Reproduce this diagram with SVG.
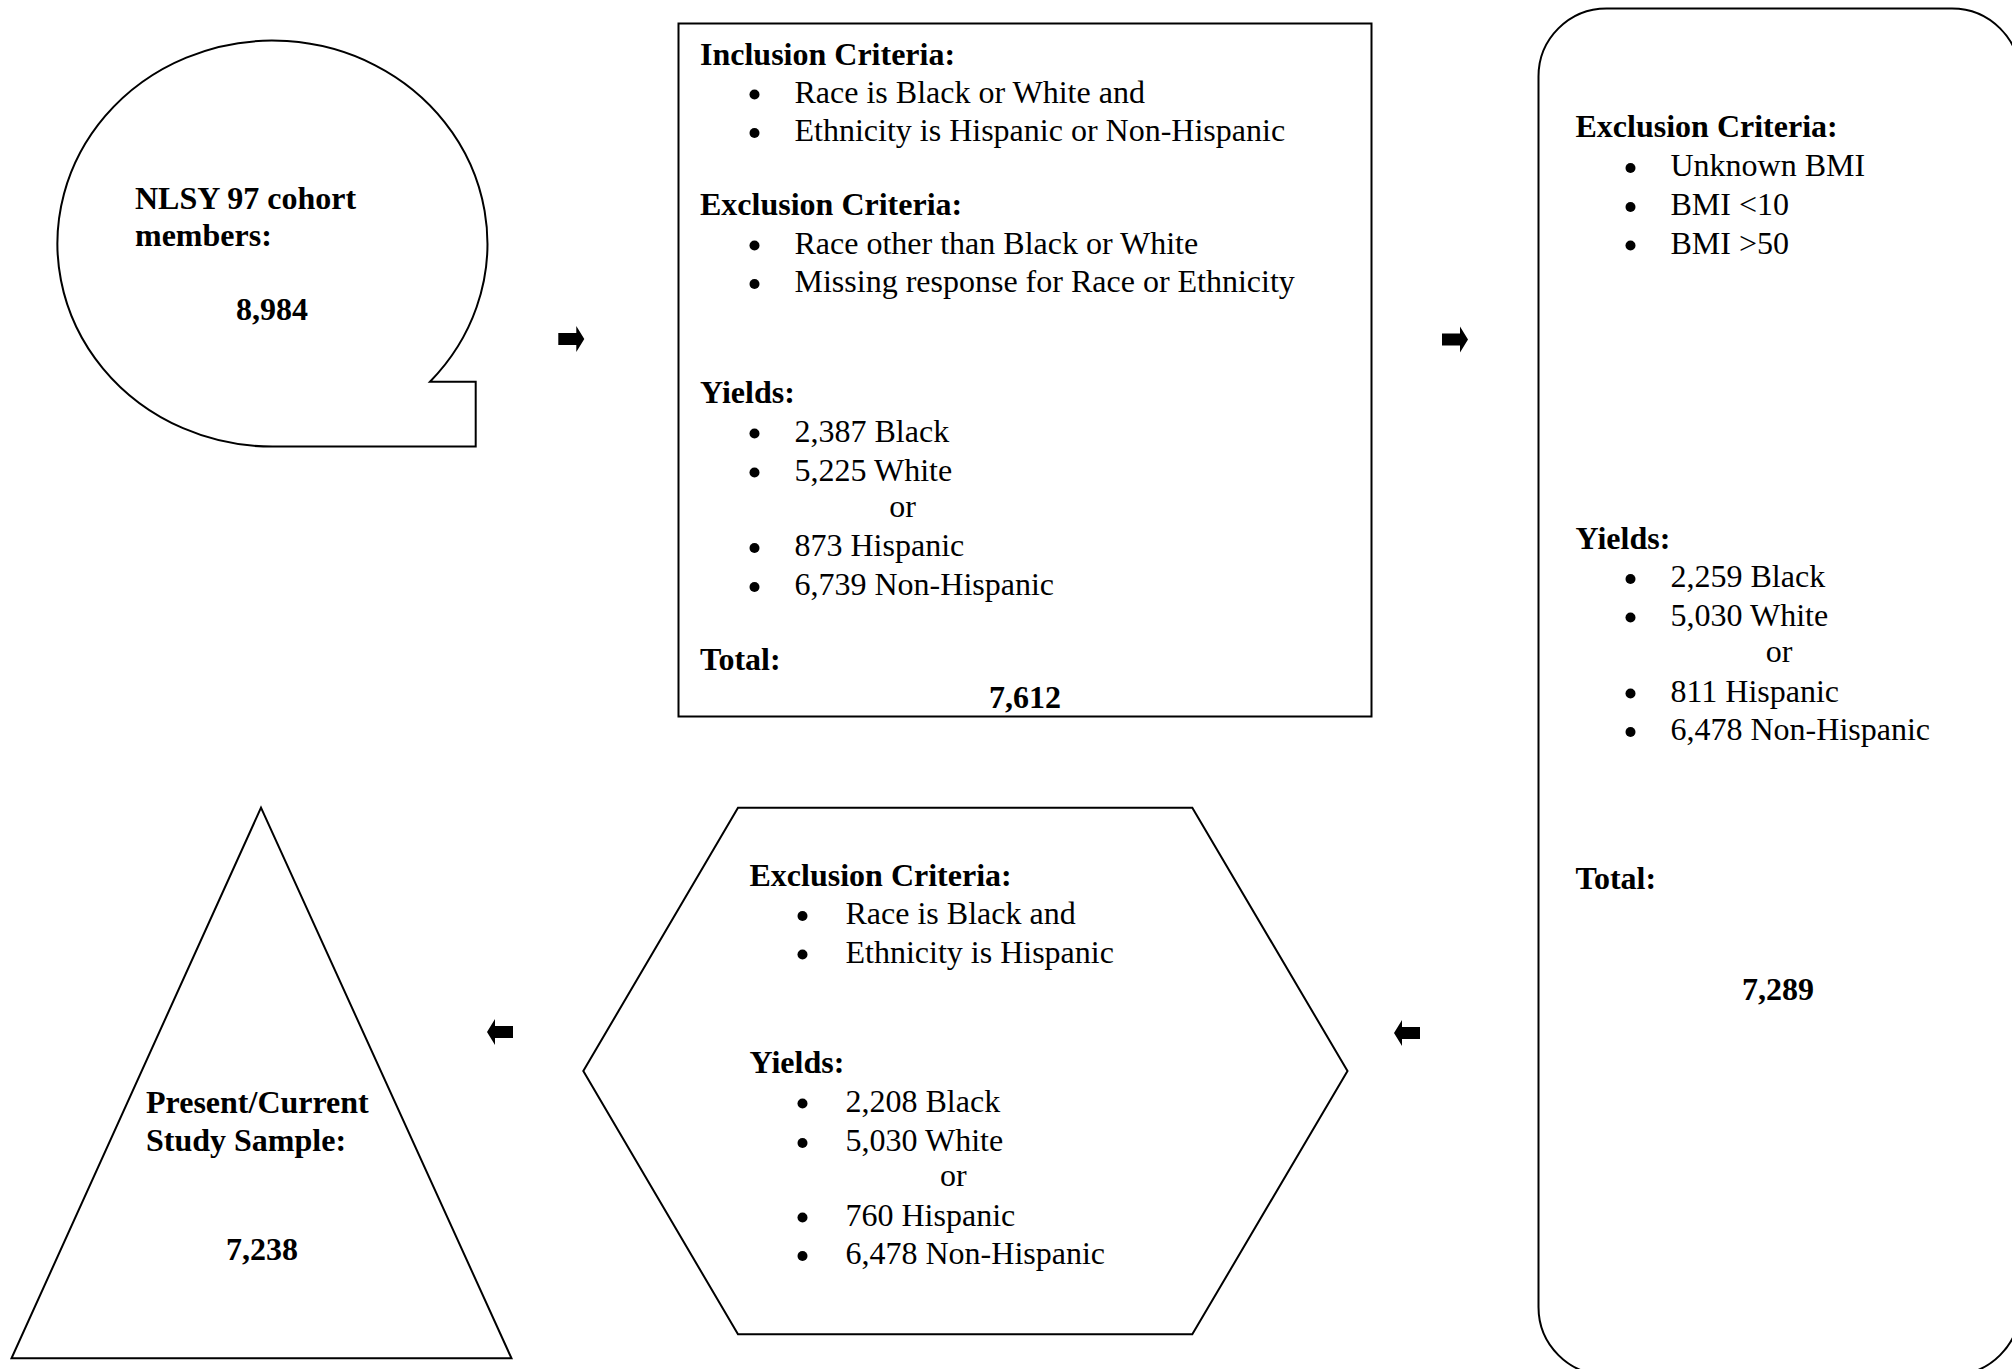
<svg xmlns="http://www.w3.org/2000/svg" width="2012" height="1369" viewBox="0 0 2012 1369">
  <style>
    .shape { fill: #ffffff; stroke: #000000; stroke-width: 2; }
    .t { font-family: "Liberation Serif", "Times New Roman", serif; font-size: 32px; fill: #000000; }
    .b { font-weight: bold; }
    .c { text-anchor: middle; }
    .dot { fill: #000000; }
    .arrow { fill: #000000; stroke: none; }
  </style>
  <defs>
    <path id="blockArrow" d="M0,-6 H18 V-13 L26,0 L18,13 V6 H0 Z"/>
  </defs>
  <rect width="2012" height="1369" fill="#ffffff"/>

  <g id="node-cohort">
    <path class="shape" d="M272.7,446.6 A215,203 0 1 1 430,381.7 L475.7,381.7 L475.7,446.6 Z"/>
    <text class="t b" x="135" y="209">NLSY 97 cohort</text>
    <text class="t b" x="135" y="246">members:</text>
    <text class="t b c" x="272" y="320">8,984</text>
  </g>

  <g id="node-inclusion">
    <rect class="shape" x="678.5" y="23.5" width="693" height="693"/>
    <text class="t b" x="700" y="64.5">Inclusion Criteria:</text>
    <circle class="dot" cx="754.5" cy="94.5" r="5"/>
    <text class="t" x="794.5" y="102.5">Race is Black or White and</text>
    <circle class="dot" cx="754.5" cy="133" r="5"/>
    <text class="t" x="794.5" y="141">Ethnicity is Hispanic or Non-Hispanic</text>
    <text class="t b" x="700" y="215">Exclusion Criteria:</text>
    <circle class="dot" cx="754.5" cy="245.5" r="5"/>
    <text class="t" x="794.5" y="253.5">Race other than Black or White</text>
    <circle class="dot" cx="754.5" cy="284" r="5"/>
    <text class="t" x="794.5" y="292">Missing response for Race or Ethnicity</text>
    <text class="t b" x="700" y="402.5">Yields:</text>
    <circle class="dot" cx="754.5" cy="433.5" r="5"/>
    <text class="t" x="794.5" y="441.5">2,387 Black</text>
    <circle class="dot" cx="754.5" cy="472.5" r="5"/>
    <text class="t" x="794.5" y="480.5">5,225 White</text>
    <text class="t c" x="902.5" y="517">or</text>
    <circle class="dot" cx="754.5" cy="548" r="5"/>
    <text class="t" x="794.5" y="556">873 Hispanic</text>
    <circle class="dot" cx="754.5" cy="587" r="5"/>
    <text class="t" x="794.5" y="595">6,739 Non-Hispanic</text>
    <text class="t b" x="700" y="669.5">Total:</text>
    <text class="t b c" x="1025" y="708">7,612</text>
  </g>

  <g id="node-bmi">
    <rect class="shape" x="1538.5" y="8.5" width="481.5" height="1366.5" rx="68" ry="68"/>
    <text class="t b" x="1575.5" y="137">Exclusion Criteria:</text>
    <circle class="dot" cx="1630.5" cy="168" r="5"/>
    <text class="t" x="1670.5" y="176">Unknown BMI</text>
    <circle class="dot" cx="1630.5" cy="207" r="5"/>
    <text class="t" x="1670.5" y="215">BMI &lt;10</text>
    <circle class="dot" cx="1630.5" cy="245.5" r="5"/>
    <text class="t" x="1670.5" y="253.5">BMI &gt;50</text>
    <text class="t b" x="1575.5" y="548.5">Yields:</text>
    <circle class="dot" cx="1630.5" cy="579" r="5"/>
    <text class="t" x="1670.5" y="587">2,259 Black</text>
    <circle class="dot" cx="1630.5" cy="617.5" r="5"/>
    <text class="t" x="1670.5" y="625.5">5,030 White</text>
    <text class="t c" x="1779" y="662">or</text>
    <circle class="dot" cx="1630.5" cy="693.5" r="5"/>
    <text class="t" x="1670.5" y="701.5">811 Hispanic</text>
    <circle class="dot" cx="1630.5" cy="732" r="5"/>
    <text class="t" x="1670.5" y="740">6,478 Non-Hispanic</text>
    <text class="t b" x="1575.5" y="888.5">Total:</text>
    <text class="t b c" x="1778" y="999.5">7,289</text>
  </g>

  <g id="node-hispanic-black">
    <polygon class="shape" points="738,807.7 1192.3,807.7 1347.5,1071 1192.3,1334.3 738,1334.3 583.3,1071"/>
    <text class="t b" x="749.5" y="885.5">Exclusion Criteria:</text>
    <circle class="dot" cx="802.5" cy="916" r="5"/>
    <text class="t" x="845.5" y="924">Race is Black and</text>
    <circle class="dot" cx="802.5" cy="954.5" r="5"/>
    <text class="t" x="845.5" y="962.5">Ethnicity is Hispanic</text>
    <text class="t b" x="749.5" y="1073">Yields:</text>
    <circle class="dot" cx="802.5" cy="1103.5" r="5"/>
    <text class="t" x="845.5" y="1111.5">2,208 Black</text>
    <circle class="dot" cx="802.5" cy="1143" r="5"/>
    <text class="t" x="845.5" y="1151">5,030 White</text>
    <text class="t c" x="953.3" y="1186">or</text>
    <circle class="dot" cx="802.5" cy="1217.5" r="5"/>
    <text class="t" x="845.5" y="1225.5">760 Hispanic</text>
    <circle class="dot" cx="802.5" cy="1256" r="5"/>
    <text class="t" x="845.5" y="1264">6,478 Non-Hispanic</text>
  </g>

  <g id="node-sample">
    <polygon class="shape" points="261,807.7 511.5,1358.3 11.5,1358.3"/>
    <text class="t b" x="146" y="1113">Present/Current</text>
    <text class="t b" x="146" y="1151">Study Sample:</text>
    <text class="t b c" x="262" y="1260">7,238</text>
  </g>

  <g id="connectors">
    <use class="arrow" href="#blockArrow" transform="translate(558.3,339)"/>
    <use class="arrow" href="#blockArrow" transform="translate(1442,339.5)"/>
    <use class="arrow" href="#blockArrow" transform="translate(1420,1033) scale(-1,1)"/>
    <use class="arrow" href="#blockArrow" transform="translate(513,1032) scale(-1,1)"/>
  </g>
</svg>
